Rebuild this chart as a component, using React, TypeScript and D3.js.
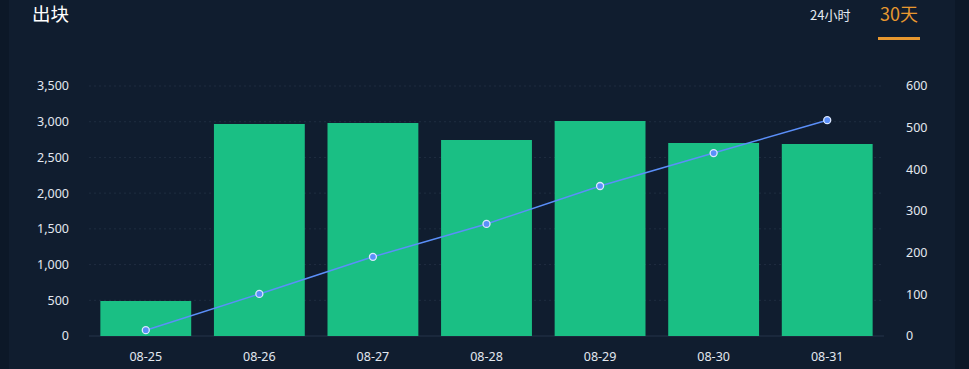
import React from "react";
import * as d3 from "d3";

const categories = ["08-25", "08-26", "08-27", "08-28", "08-29", "08-30", "08-31"];
const barValues = [490, 2968, 2982, 2744, 3010, 2702, 2688];
const lineValues = [14, 101, 190, 269, 360, 439, 518];
const leftTicks = [0, 500, 1000, 1500, 2000, 2500, 3000, 3500];
const rightTicks = [0, 100, 200, 300, 400, 500, 600];

const W = 969;
const H = 369;
const margin = { left: 89, right: 85, top: 86, bottom: 33 };

export default function App() {
  const xc = d3
    .scalePoint<string>()
    .domain(categories)
    .range([margin.left, W - margin.right])
    .padding(0.5);
  const yL = d3.scaleLinear().domain([0, 3500]).range([H - margin.bottom, margin.top]);
  const yR = d3.scaleLinear().domain([0, 600]).range([H - margin.bottom, margin.top]);
  const fmt = d3.format(",");
  const line = d3
    .line<number>()
    .x((_, i) => xc(categories[i]) as number)
    .y((d) => yR(d));
  const bw = (W - margin.left - margin.right) / categories.length * 0.8;
  const font = "'Noto Sans', 'Noto Sans CJK SC', sans-serif";

  return (
    <svg
      width={W}
      height={H}
      style={{ position: "absolute", left: 0, top: 0, display: "block" }}
      fontFamily={font}
    >
      <rect x={0} y={0} width={W} height={H} fill="#0c1828" />
      <rect x={9} y={0} width={946} height={H} fill="#101d2f" />
      <text x={32} y={21} fill="#ffffff" fontSize={18.5} fontFamily="'Noto Sans CJK SC', sans-serif">
        出块
      </text>
      <text x={810} y={20} fill="#e6ebf2" fontSize={13} fontFamily="'Noto Sans CJK SC', sans-serif">
        24小时
      </text>
      <text x={880} y={21} fill="#e8982f" fontSize={18} fontFamily="'Noto Sans CJK SC', sans-serif">
        30天
      </text>
      <rect x={878} y={37} width={42} height={3} fill="#e8982f" />

      {leftTicks.map((t) => (
        <g key={"l" + t}>
          {t > 0 && (
            <line
              x1={margin.left}
              x2={W - margin.right}
              y1={yL(t)}
              y2={yL(t)}
              stroke="#1f2d40"
              strokeDasharray="2,3"
              strokeWidth={1}
            />
          )}
          <text
            x={69}
            y={yL(t)}
            dy="0.35em"
            textAnchor="end"
            fill="#e3e8ef"
            fontSize={12.5}
          >
            {fmt(t)}
          </text>
        </g>
      ))}
      <line
        x1={margin.left}
        x2={W - margin.right}
        y1={yL(0)}
        y2={yL(0)}
        stroke="#24344a"
        strokeWidth={1}
      />
      {rightTicks.map((t) => (
        <text
          key={"r" + t}
          x={906}
          y={yR(t)}
          dy="0.35em"
          textAnchor="start"
          fill="#e3e8ef"
          fontSize={12.5}
        >
          {t}
        </text>
      ))}

      {categories.map((c, i) => (
        <rect
          key={c}
          x={(xc(c) as number) - bw / 2}
          y={yL(barValues[i])}
          width={bw}
          height={yL(0) - yL(barValues[i])}
          fill="#1abf84"
        />
      ))}
      {categories.map((c) => (
        <text
          key={"x" + c}
          x={xc(c) as number}
          y={357}
          dy="0.35em"
          textAnchor="middle"
          fill="#e3e8ef"
          fontSize={12.5}
        >
          {c}
        </text>
      ))}

      <path d={line(lineValues) as string} fill="none" stroke="#5b8ff9" strokeWidth={1.5} />
      {lineValues.map((v, i) => (
        <circle
          key={"p" + i}
          cx={xc(categories[i]) as number}
          cy={yR(v)}
          r={3.5}
          fill="#5b8ff9"
          stroke="#dce8ff"
          strokeWidth={1.3}
        />
      ))}
    </svg>
  );
}
